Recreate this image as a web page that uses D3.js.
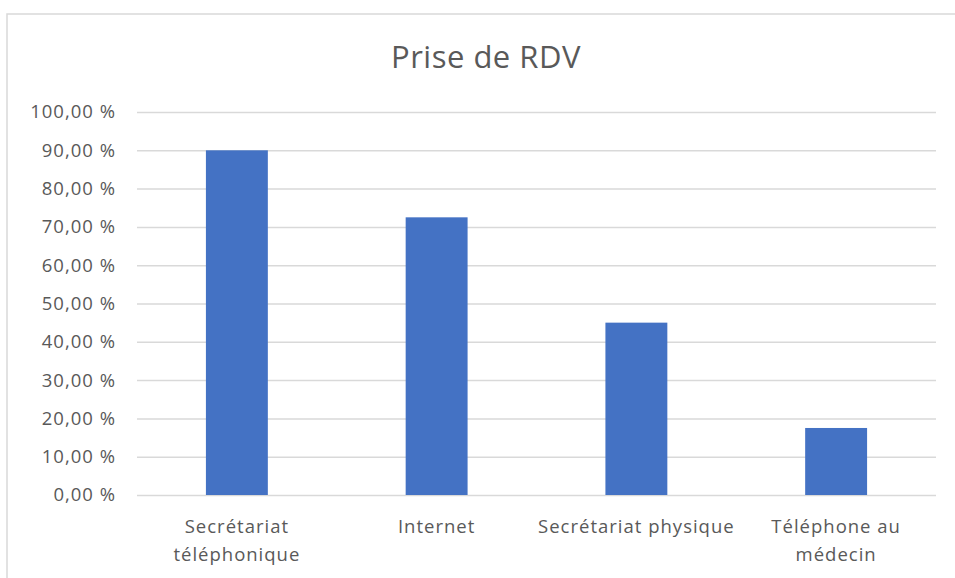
<!DOCTYPE html>
<html lang="fr">
    <head>
        <meta charset="utf-8">
        <title>Prise de RDV</title>
        <script src="https://d3js.org/d3.v7.min.js"></script>
        <style type="text/css">
          body { margin: 0; background: #fff; }
          .title {
            font-size: 31px;
            letter-spacing: 0.5px;
            font-family: "Open Sans", sans-serif;
            fill: #595959;
          }
          .tick text {
            font-size: 18.5px;
            letter-spacing: 1px;
            font-family: "Open Sans", sans-serif;
            fill: #595959;
          }
        </style>
    </head>
    <body>
        <svg width="955" height="578"></svg>
        <script type="text/javascript">

            // data
            const categories = [["Secrétariat", "téléphonique"], ["Internet"], ["Secrétariat physique"], ["Téléphone au", "médecin"]];
            const values = [90, 72.5, 45, 17.5];
            const yTicks = [0, 10, 20, 30, 40, 50, 60, 70, 80, 90, 100];

            const svg = d3.select("svg");
            const w = 955, h = 578;
            const margin = {top: 112, right: 19, bottom: 83, left: 137};

            // chart frame
            svg.append("rect")
               .attr("x", 7).attr("y", 14)
               .attr("width", w).attr("height", h)
               .attr("fill", "#fff")
               .attr("stroke", "#d9d9d9")
               .attr("stroke-width", 1.5);

            const x = d3.scaleBand()
                        .domain(d3.range(categories.length))
                        .range([margin.left, w - margin.right])
                        .paddingInner(0.69)
                        .paddingOuter(0.345);

            const y = d3.scaleLinear()
                        .domain([0, 100])
                        .range([h - margin.bottom, margin.top]);

            // gridlines + y labels
            const yAxis = svg.append("g")
               .attr("transform", `translate(${margin.left},0)`)
               .call(d3.axisLeft(y)
                  .tickValues(yTicks)
                  .tickSize(-(w - margin.left - margin.right))
                  .tickPadding(21)
                  .tickFormat(d => d3.format(".2f")(d).replace(".", ",") + " %"));
            yAxis.select(".domain").remove();
            yAxis.selectAll(".tick line")
                 .attr("stroke", "#d9d9d9")
                 .attr("stroke-width", 1.5);

            // bars
            svg.selectAll(".bar")
               .data(values)
               .enter()
               .append("rect")
               .attr("class", "bar")
               .attr("x", (d, i) => x(i))
               .attr("y", d => y(d))
               .attr("width", x.bandwidth())
               .attr("height", d => y(0) - y(d))
               .attr("fill", "#4472c4");

            // x labels
            const xAxis = svg.append("g")
               .attr("transform", `translate(0,${h - margin.bottom})`)
               .call(d3.axisBottom(x).tickSize(0).tickFormat(""));
            xAxis.select(".domain").remove();
            xAxis.selectAll(".tick").each(function(i) {
                const t = d3.select(this).append("text")
                    .attr("fill", "#595959")
                    .attr("text-anchor", "middle");
                categories[i].forEach((line, k) => {
                    t.append("tspan").attr("x", 0).attr("y", 38 + k * 28).text(line);
                });
            });

            // title
            svg.append("text")
               .attr("class", "title")
               .attr("x", 486)
               .attr("y", 68)
               .attr("text-anchor", "middle")
               .text("Prise de RDV");

        </script>
    </body>
</html>
